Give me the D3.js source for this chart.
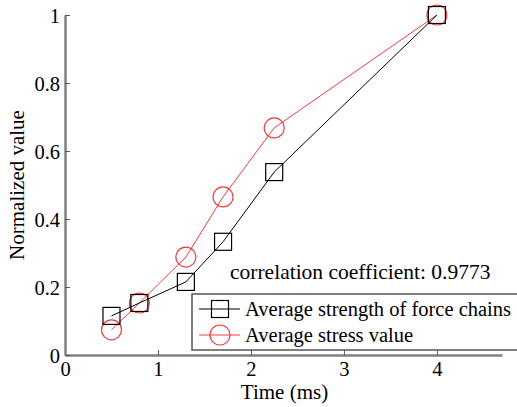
<!DOCTYPE html>
<html>
<head>
<meta charset="utf-8">
<script src="https://cdn.jsdelivr.net/npm/d3@7"></script>
<style>
  html, body { margin: 0; padding: 0; background: #fff; }
  svg text { font-family: 'Liberation Serif'; }
</style>
</head>
<body>
<svg id="chart" width="517" height="407"></svg>
<script>
// Time samples (ms)
const times = [0.5, 0.8, 1.3, 1.7, 2.25, 4];
// Normalized series
const forceChainStrength = [0.115, 0.153, 0.215, 0.333, 0.538, 1];
const stressValue = [0.074, 0.153, 0.288, 0.465, 0.668, 1];
const xTicks = [0, 1, 2, 3, 4];
const yTicks = [0, 0.2, 0.4, 0.6, 0.8, 1];
const yTickLabels = ["0", "0.2", "0.4", "0.6", "0.8", "1"];
const seriesNames = ["Average strength of force chains", "Average stress value"];
const annotation = "correlation coefficient: 0.9773";

const svg = d3.select("#chart");
const margin = { left: 65, right: 15, top: 15, bottom: 52 };
const W = 517, H = 407;

const x = d3.scaleLinear().domain([0, 4.7]).range([margin.left, W - margin.right]);
const y = d3.scaleLinear().domain([0, 1]).range([H - margin.bottom, margin.top]);

const axisColor = "#808080";
const fontSize = 21;
const tickFont = 20.5;
const serif = "'Liberation Serif'";

// Bottom axis with inward ticks
const xAxis = svg.append("g")
  .attr("transform", `translate(0,${y(0)})`)
  .call(d3.axisBottom(x).tickValues(xTicks).tickSizeInner(-5).tickSizeOuter(0).tickPadding(6.5)
    .tickFormat(d3.format("d")));
// Left axis with inward ticks
const yAxis = svg.append("g")
  .attr("transform", `translate(${x(0)},0)`)
  .call(d3.axisLeft(y).tickValues(yTicks).tickSizeInner(-5).tickSizeOuter(0).tickPadding(5)
    .tickFormat((d, i) => yTickLabels[i]));

[xAxis, yAxis].forEach(g => {
  g.attr("font-family", null).attr("font-size", null);
  g.select(".domain").attr("stroke", axisColor).attr("stroke-width", 2.5);
  g.selectAll(".tick line").attr("stroke", "#555").attr("stroke-width", 1);
  g.selectAll(".tick text").attr("fill", "#000").style("font-size", tickFont + "px")
    .style("font-family", serif);
});
yAxis.selectAll(".tick text").attr("dy", "0.35em");
xAxis.selectAll(".tick text").attr("dy", "0.71em");

// Axis titles
svg.append("text")
  .attr("x", 284.5).attr("y", 399)
  .attr("text-anchor", "middle").style("font-size", fontSize + "px").style("font-family", serif)
  .text("Time (ms)");
svg.append("text")
  .attr("transform", `translate(24,${(y(0) + y(1)) / 2}) rotate(-90)`)
  .attr("text-anchor", "middle").style("font-size", fontSize + "px").style("font-family", serif)
  .text("Normalized value");

const line = d3.line().x(d => x(d[0])).y(d => y(d[1]));
const blackData = times.map((t, i) => [t, forceChainStrength[i]]);
const redData = times.map((t, i) => [t, stressValue[i]]);

const black = "#000";
const red = "#f03c3c";
const sq = 17, cr = 10;

// Stress series (red, circles)
svg.append("path").datum(redData).attr("d", line)
  .attr("fill", "none").attr("stroke", red).attr("stroke-width", 1);
svg.selectAll("circle.stress").data(redData).enter().append("circle")
  .attr("class", "stress")
  .attr("cx", d => x(d[0])).attr("cy", d => y(d[1])).attr("r", cr)
  .attr("fill", "none").attr("stroke", red).attr("stroke-width", 1.2);

// Force chain series (black, squares)
svg.append("path").datum(blackData).attr("d", line)
  .attr("fill", "none").attr("stroke", black).attr("stroke-width", 1);
svg.selectAll("rect.force").data(blackData).enter().append("rect")
  .attr("class", "force")
  .attr("x", d => x(d[0]) - sq / 2).attr("y", d => y(d[1]) - sq / 2)
  .attr("width", sq).attr("height", sq)
  .attr("fill", "none").attr("stroke", black).attr("stroke-width", 1.2);

// Correlation annotation
svg.append("text")
  .attr("x", 230).attr("y", 279)
  .style("font-size", "21.5px").style("font-family", serif)
  .text(annotation);

// Legend
const lg = svg.append("g");
lg.append("rect")
  .attr("x", 192).attr("y", 294).attr("width", 340).attr("height", 56)
  .attr("fill", "#fff").attr("stroke", "#555").attr("stroke-width", 1.5);
const rows = [
  { name: seriesNames[0], color: black, shape: "square", yy: 309 },
  { name: seriesNames[1], color: red, shape: "circle", yy: 335 }
];
rows.forEach(r => {
  lg.append("line").attr("x1", 199).attr("x2", 240).attr("y1", r.yy).attr("y2", r.yy)
    .attr("stroke", r.color).attr("stroke-width", 1);
  if (r.shape === "square") {
    lg.append("rect").attr("x", 220 - sq / 2).attr("y", r.yy - sq / 2)
      .attr("width", sq).attr("height", sq)
      .attr("fill", "none").attr("stroke", r.color).attr("stroke-width", 1.2);
  } else {
    lg.append("circle").attr("cx", 220).attr("cy", r.yy).attr("r", cr)
      .attr("fill", "none").attr("stroke", r.color).attr("stroke-width", 1.2);
  }
  lg.append("text").attr("x", 245).attr("y", r.yy + 6.5)
    .style("font-size", "20.5px").style("font-family", serif).text(r.name);
});
</script>
</body>
</html>
